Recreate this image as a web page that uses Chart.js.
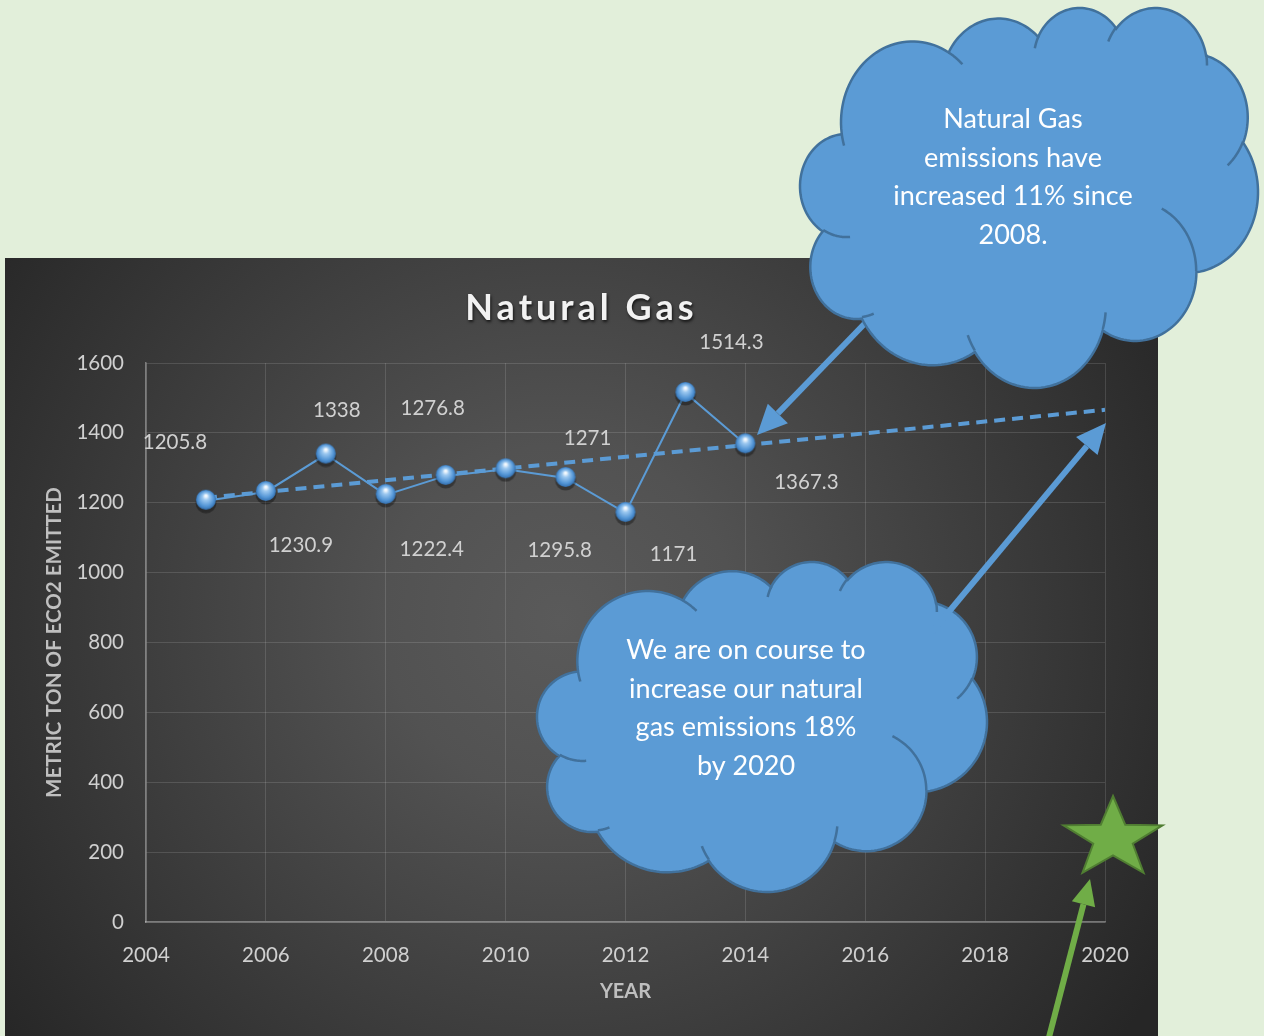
<!DOCTYPE html>
<html>
<head>
<meta charset="utf-8">
<title>Natural Gas</title>
<script src="https://cdn.jsdelivr.net/npm/chart.js@4.4.1/dist/chart.umd.min.js"></script>
<style>
  html, body { margin: 0; padding: 0; background: #e2efda; }
  #wrap { position: relative; width: 1264px; height: 1036px; overflow: hidden; }
</style>
</head>
<body>
<div id="wrap"><canvas id="chart" width="1264" height="1036"></canvas></div>
<script>
// values
const years = [2005, 2006, 2007, 2008, 2009, 2010, 2011, 2012, 2013, 2014];
const emissions = [1205.8, 1230.9, 1338, 1222.4, 1276.8, 1295.8, 1271, 1171, 1514.3, 1367.3];
const trendYears = [2005, 2020];
const trendValues = [1214, 1466];
const xTicks = [2004, 2006, 2008, 2010, 2012, 2014, 2016, 2018, 2020];
const yTicks = [0, 200, 400, 600, 800, 1000, 1200, 1400, 1600];

// where Excel put each data label, relative to its point (px)
const labelOffsets = [[-31, -58], [35, 53], [11, -44], [46, 54], [-13, -68], [54, 81], [22, -40], [48, 42], [46, -51], [61, 38]];

const cloudTopText = ['Natural Gas', 'emissions have', 'increased 11% since', '2008.'];
const cloudMidText = ['We are on course to', 'increase our natural', 'gas emissions 18%', 'by 2020'];

const BLUE = '#5b9bd5';
const GREEN = '#70ad47';
const FONT = 'Lato, "Open Sans", sans-serif';

// Office "cloud" preset geometry (43200 x 43200 space)
const CLOUD_START = [3900, 14370];
const CLOUD_ARCS = [
    [6753, 9190, -11429249, 7426832],
    [5333, 7267, -8646143, 5396714],
    [4365, 5945, -8748475, 5983381],
    [4857, 6595, -7859164, 7034504],
    [5333, 7273, -4722533, 6541615],
    [6775, 9220, -2776035, 7816140],
    [5785, 7867, 37501, 6842000],
    [6752, 9215, 1347096, 6910353],
    [7720, 10543, 3974558, 4542661],
    [4360, 5918, -16496525, 8804134],
    [4345, 5945, -14809710, 9151131]
];
const CLOUD_DETAILS = [
    [4693, 26177, 4345, 5945, 5204520, 1585770],
    [6928, 34899, 4360, 5918, 4416628, 686848],
    [16478, 39090, 6752, 9215, 8257449, 844866],
    [28827, 34751, 6752, 9215, 387196, 959901],
    [34129, 22954, 5785, 7867, -4217541, 4255042],
    [41798, 15354, 5333, 7273, 1819082, 1665090],
    [38324, 5426, 4857, 6595, -824660, 891534],
    [29078, 3952, 4857, 6595, -8950887, 1091722],
    [22141, 4720, 4365, 5945, -9809656, 1061181],
    [14000, 5192, 6753, 9190, -4002417, 739161],
    [4127, 15789, 6753, 9190, 9459261, 711490]
];

function arcSample(x0, y0, wR, hR, st, sw, pts) {
    const a1 = st / 60000 * Math.PI / 180;
    const a2 = (st + sw) / 60000 * Math.PI / 180;
    const par = a => Math.atan2(wR * Math.sin(a), hR * Math.cos(a));
    const t1 = par(a1);
    let t2 = par(a2);
    if (sw > 0) { while (t2 <= t1) t2 += 2 * Math.PI; }
    else { while (t2 >= t1) t2 -= 2 * Math.PI; }
    const cx = x0 - wR * Math.cos(t1), cy = y0 - hR * Math.sin(t1);
    const n = 40;
    for (let i = 0; i <= n; i++) {
        const t = t1 + (t2 - t1) * i / n;
        pts.push([cx + wR * Math.cos(t), cy + hR * Math.sin(t)]);
    }
    return pts[pts.length - 1];
}

function drawCloud(ctx, box, lines, firstBaseline, cx) {
    const outline = [];
    let cur = CLOUD_START;
    CLOUD_ARCS.forEach(a => { cur = arcSample(cur[0], cur[1], a[0], a[1], a[2], a[3], outline); });
    const xs = outline.map(p => p[0]), ys = outline.map(p => p[1]);
    const minX = Math.min(...xs), maxX = Math.max(...xs), minY = Math.min(...ys), maxY = Math.max(...ys);
    const sx = (box[2] - box[0]) / (maxX - minX), sy = (box[3] - box[1]) / (maxY - minY);
    const tx = p => [box[0] + (p[0] - minX) * sx, box[1] + (p[1] - minY) * sy];

    ctx.save();
    ctx.beginPath();
    outline.map(tx).forEach((p, i) => i ? ctx.lineTo(p[0], p[1]) : ctx.moveTo(p[0], p[1]));
    ctx.closePath();
    ctx.fillStyle = BLUE;
    ctx.fill();
    ctx.strokeStyle = '#41719c';
    ctx.lineWidth = 2.5;
    ctx.stroke();

    CLOUD_DETAILS.forEach(d => {
        const pts = [];
        arcSample(d[0], d[1], d[2], d[3], d[4], d[5], pts);
        ctx.beginPath();
        pts.map(tx).forEach((p, i) => i ? ctx.lineTo(p[0], p[1]) : ctx.moveTo(p[0], p[1]));
        ctx.stroke();
    });

    ctx.fillStyle = '#ffffff';
    ctx.font = '27px ' + FONT;
    ctx.textAlign = 'center';
    ctx.textBaseline = 'alphabetic';
    lines.forEach((t, i) => ctx.fillText(t, cx, firstBaseline + i * 38.7));
    ctx.restore();
}

function drawArrow(ctx, from, to, color, width, headLen, headHalf) {
    const ang = Math.atan2(to[1] - from[1], to[0] - from[0]);
    const bx = to[0] - headLen * Math.cos(ang), by = to[1] - headLen * Math.sin(ang);
    ctx.save();
    ctx.strokeStyle = color;
    ctx.fillStyle = color;
    ctx.lineWidth = width;
    ctx.beginPath();
    ctx.moveTo(from[0], from[1]);
    ctx.lineTo(bx, by);
    ctx.stroke();
    ctx.beginPath();
    ctx.moveTo(to[0], to[1]);
    ctx.lineTo(bx + headHalf * Math.sin(ang), by - headHalf * Math.cos(ang));
    ctx.lineTo(bx - headHalf * Math.sin(ang), by + headHalf * Math.cos(ang));
    ctx.closePath();
    ctx.fill();
    ctx.restore();
}

function drawStar(ctx, cx, cy, rx, ry) {
    ctx.save();
    ctx.beginPath();
    for (let i = 0; i < 10; i++) {
        const a = -Math.PI / 2 + i * Math.PI / 5;
        const k = i % 2 ? 0.4 : 1;
        const x = cx + rx * k * Math.cos(a), y = cy + ry * k * Math.sin(a);
        i ? ctx.lineTo(x, y) : ctx.moveTo(x, y);
    }
    ctx.closePath();
    ctx.fillStyle = GREEN;
    ctx.fill();
    ctx.strokeStyle = '#507e32';
    ctx.lineWidth = 2;
    ctx.stroke();
    ctx.restore();
}

// glossy sphere marker
function makeSphere() {
    const c = document.createElement('canvas');
    c.width = 26; c.height = 26;
    const g = c.getContext('2d');
    g.fillStyle = 'rgba(0,0,0,0.35)';
    g.beginPath(); g.arc(13, 15, 10.5, 0, Math.PI * 2); g.fill();
    const grad = g.createRadialGradient(13, 8, 1, 13, 12, 10.5);
    grad.addColorStop(0, '#f2f8fd');
    grad.addColorStop(0.25, '#9cc8f0');
    grad.addColorStop(0.7, '#5496d6');
    grad.addColorStop(1, '#2f6bab');
    g.fillStyle = grad;
    g.beginPath(); g.arc(13, 12, 10, 0, Math.PI * 2); g.fill();
    return c;
}

const panelPlugin = {
    id: 'panel',
    beforeDraw(chart) {
        const ctx = chart.ctx;
        ctx.save();
        ctx.fillStyle = '#e2efda';
        ctx.fillRect(0, 0, chart.width, chart.height);
        const grad = ctx.createRadialGradient(560, 620, 0, 560, 620, 700);
        grad.addColorStop(0, '#5a5a5a');
        grad.addColorStop(0.25, '#525252');
        grad.addColorStop(1, '#262626');
        ctx.fillStyle = grad;
        ctx.fillRect(5, 258, 1153, 778);
        ctx.restore();
        // spaced, shadowed title
        const tb = chart.titleBlock;
        if (tb && !tb._spaced) {
            const orig = tb.draw;
            tb.draw = function (area) {
                const c = this.ctx;
                c.save();
                c.letterSpacing = '4px';
                c.shadowColor = 'rgba(0,0,0,0.7)';
                c.shadowOffsetY = 2;
                c.shadowOffsetX = 1;
                c.shadowBlur = 3;
                orig.call(this, area);
                c.restore();
            };
            tb._spaced = true;
        }
    }
};

const labelPlugin = {
    id: 'pointLabels',
    afterDatasetsDraw(chart) {
        const ctx = chart.ctx;
        const meta = chart.getDatasetMeta(0);
        ctx.save();
        ctx.font = '20.5px ' + FONT;
        ctx.fillStyle = '#d0d0d0';
        ctx.textAlign = 'center';
        ctx.textBaseline = 'middle';
        meta.data.forEach((pt, i) => {
            const o = labelOffsets[i];
            ctx.fillText(String(emissions[i]), pt.x + o[0], pt.y + o[1]);
        });
        ctx.restore();
    }
};

const shapesPlugin = {
    id: 'shapes',
    afterDraw(chart) {
        const ctx = chart.ctx;
        drawArrow(ctx, [872, 316], [757, 435], BLUE, 6, 30, 14);
        drawCloud(ctx, [800, 8, 1258, 388], cloudTopText, 128, 1013);
        drawCloud(ctx, [537, 562, 987, 892], cloudMidText, 659, 746);
        drawArrow(ctx, [932, 632], [1106, 423], BLUE, 6, 30, 14);
        drawStar(ctx, 1113, 838.5, 52, 42.5);
        drawArrow(ctx, [1047, 1045], [1090, 879], GREEN, 6, 26, 12);
    }
};

const tickColor = '#d0d0d0';
const gridColor = 'rgba(255,255,255,0.13)';
const axisColor = 'rgba(255,255,255,0.35)';

new Chart(document.getElementById('chart'), {
    type: 'line',
    data: {
        datasets: [
            {
                label: 'Natural Gas',
                data: years.map((y, i) => ({ x: y, y: emissions[i] })),
                borderColor: BLUE,
                borderWidth: 2,
                pointStyle: makeSphere(),
                tension: 0,
                order: 0
            },
            {
                label: 'Linear trend',
                data: trendYears.map((y, i) => ({ x: y, y: trendValues[i] })),
                borderColor: BLUE,
                borderWidth: 4,
                borderDash: [11, 7],
                pointRadius: 0,
                order: 1
            }
        ]
    },
    options: {
        responsive: false,
        animation: false,
        layout: { padding: { left: 5, right: 106, top: 287, bottom: 0 } },
        plugins: {
            legend: { display: false },
            tooltip: { enabled: false },
            title: {
                display: true,
                text: 'Natural Gas',
                color: '#f2f2f2',
                font: { family: FONT, size: 36, weight: 'bold' },
                padding: { top: 0, bottom: 32.8 }
            }
        },
        scales: {
            x: {
                type: 'linear',
                min: xTicks[0],
                max: xTicks[xTicks.length - 1],
                afterBuildTicks: s => { s.ticks = xTicks.map(v => ({ value: v })); },
                afterFit: s => { s.height = 114; },
                grid: { color: gridColor, drawTicks: false },
                border: { color: axisColor, width: 1.5 },
                ticks: { color: tickColor, padding: 21, font: { family: FONT, size: 20.5 }, callback: v => String(v) },
                title: { display: true, text: 'YEAR', color: '#bfbfbf', font: { family: FONT, size: 20, weight: 'bold' }, padding: { top: 0, bottom: 32 } }
            },
            y: {
                min: yTicks[0],
                max: yTicks[yTicks.length - 1],
                afterBuildTicks: s => { s.ticks = yTicks.map(v => ({ value: v })); },
                afterFit: s => { s.width = 141; },
                grid: { color: gridColor, drawTicks: false },
                border: { color: axisColor, width: 1.5 },
                ticks: { color: tickColor, padding: 22, font: { family: FONT, size: 20.5 }, callback: v => String(v) },
                title: { display: true, text: 'METRIC TON OF ECO2 EMITTED', color: '#bfbfbf', font: { family: FONT, size: 20.5, weight: 'bold' }, padding: { top: 37, bottom: 0 } }
            },
            yRight: {
                position: 'right',
                display: true,
                grid: { display: false },
                border: { display: false },
                ticks: { display: false },
                afterFit: s => { s.width = 53; }
            }
        }
    },
    plugins: [panelPlugin, labelPlugin, shapesPlugin]
});
</script>
</body>
</html>
